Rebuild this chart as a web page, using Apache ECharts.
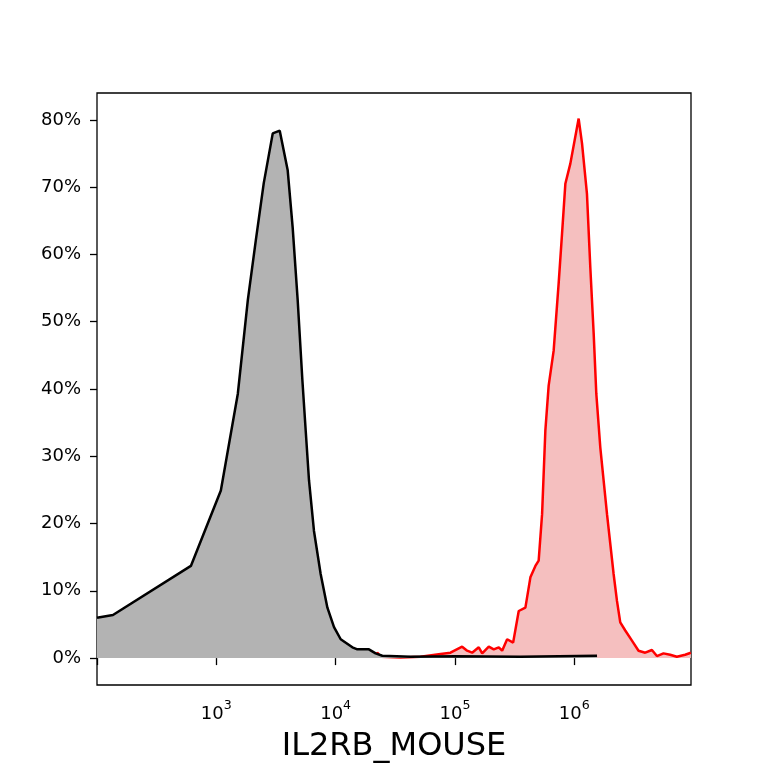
<!DOCTYPE html>
<html>
<head>
<meta charset="utf-8">
<title>IL2RB_MOUSE</title>
<script src="https://cdn.jsdelivr.net/npm/echarts@6/dist/echarts.min.js"></script>
<style>
  html, body { margin: 0; padding: 0; background: #fff; }
  #chart { width: 768px; height: 768px; }
</style>
</head>
<body>
<div id="chart"></div>
<script>
// control sample (black / grey fill): intensity, percent of max
const controlX = [100, 136, 612, 1091, 1514, 1836, 2142, 2497, 2970, 3399, 3963, 4363, 4806,
  5262, 5610, 5980, 6580, 7486, 8527, 9688, 11020, 13800, 15200, 19000, 21600, 24600,
  42500, 100000, 353000, 1550000];
const controlY = [6.0, 6.4, 13.7, 24.9, 39.3, 53.2, 62.1, 70.6, 78.0, 78.4, 72.5, 64.0, 53.2,
  41.3, 33.8, 26.4, 18.9, 12.5, 7.5, 4.6, 2.8, 1.6, 1.3, 1.3, 0.7, 0.35,
  0.2, 0.27, 0.2, 0.34];

// stained sample (red / pink fill)
const stainedX = [21600, 22300, 24000, 35000, 51400, 75700, 91700, 114800, 126400, 139200,
  158200, 169000, 191900, 211300, 232700, 248400, 273500, 307000, 342100, 389000, 428400,
  471800, 502500, 536800, 571700, 609400, 671100, 739000, 789000, 841000, 926000, 1087000,
  1160000, 1276000, 1361000, 1452000, 1528000, 1651000, 1879000, 2134000, 2277000, 2426000,
  2672000, 3040000, 3453000, 3927000, 4469000, 4920000, 5586000, 6353000, 7229000, 8487000,
  9475000];
const stainedY = [0.2, 0.8, 0.2, 0.1, 0.2, 0.6, 0.8, 1.7, 1.1, 0.8,
  1.6, 0.7, 1.7, 1.3, 1.6, 1.1, 2.8, 2.3, 7.0, 7.5, 12.0,
  13.7, 14.5, 21.4, 33.8, 40.5, 45.7, 55.7, 63.1, 70.5, 73.5, 80.2,
  76.5, 69.0, 58.1, 48.3, 39.3, 31.3, 21.4, 12.5, 8.5, 5.3,
  4.1, 2.6, 1.1, 0.8, 1.2, 0.3, 0.7, 0.5, 0.2, 0.5,
  0.8];

// axis ticks
const xTickValues = [100, 1000, 10000, 100000, 1000000];
const xLabelValues = [1000, 10000, 100000, 1000000];
const xLabelExponents = ['3', '4', '5', '6'];
const yTickValues = [0, 10, 20, 30, 40, 50, 60, 70, 80];

const zip = (xs, ys) => xs.map((x, i) => [x, ys[i]]);

const chart = echarts.init(document.getElementById('chart'), null, { renderer: 'canvas' });

const font = 'DejaVu Sans';

const option = {
  backgroundColor: '#fff',
  animation: false,
  grid: {
    left: 97, right: 77, top: 93, bottom: 83,
    outerBoundsMode: 'none',
    containLabel: false,
    show: true,
    borderColor: '#000',
    borderWidth: 1.3,
    backgroundColor: 'transparent'
  },
  xAxis: {
    type: 'log',
    logBase: 10,
    min: 100,
    max: 9500000,
    name: 'IL2RB_MOUSE',
    nameLocation: 'middle',
    nameGap: 46,
    nameTextStyle: { fontFamily: font, fontSize: 32, color: '#000' },
    axisLine: { show: false },
    splitLine: { show: false },
    minorTick: { show: false },
    axisTick: {
      show: true,
      length: 7,
      customValues: xTickValues,
      lineStyle: { color: '#000', width: 1.3 }
    },
    axisLabel: {
      customValues: xLabelValues,
      margin: 14,
      color: '#000',
      formatter: v => {
        const i = xLabelValues.indexOf(v);
        return i >= 0 ? '{b|10}{s|' + xLabelExponents[i] + '}' : '';
      },
      rich: {
        b: { fontFamily: font, fontSize: 18, lineHeight: 24, verticalAlign: 'bottom', color: '#000' },
        s: { fontFamily: font, fontSize: 12.6, lineHeight: 14, verticalAlign: 'top', color: '#000' }
      }
    }
  },
  yAxis: {
    type: 'value',
    min: -4,
    max: 84,
    axisLine: { show: false },
    splitLine: { show: false },
    axisTick: {
      show: true,
      length: 7,
      customValues: yTickValues,
      lineStyle: { color: '#000', width: 1.3 }
    },
    axisLabel: {
      customValues: yTickValues,
      margin: 16,
      fontFamily: font,
      fontSize: 18,
      color: '#000',
      formatter: '{value}%'
    }
  },
  series: [
    {
      name: 'stained',
      type: 'line',
      data: zip(stainedX, stainedY),
      showSymbol: false,
      smooth: false,
      lineStyle: { color: '#ff0000', width: 2.5 },
      areaStyle: { color: '#f5bfbf', opacity: 1, origin: 0 },
      z: 2
    },
    {
      name: 'control',
      type: 'line',
      data: zip(controlX, controlY),
      showSymbol: false,
      smooth: false,
      lineStyle: { color: '#000', width: 2.5 },
      areaStyle: { color: '#b3b3b3', opacity: 1, origin: 0 },
      z: 3
    }
  ]
};

chart.setOption(option);
</script>
</body>
</html>
